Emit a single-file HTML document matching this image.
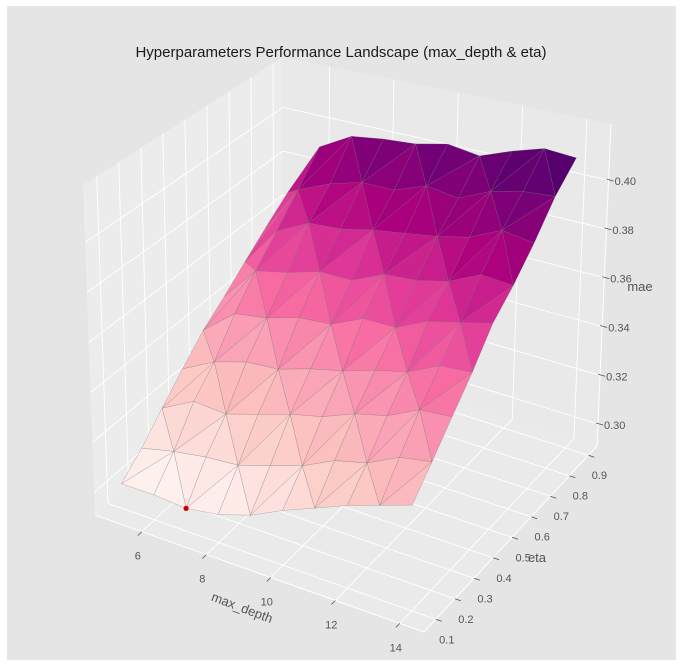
<!DOCTYPE html>
<html><head><meta charset="utf-8">
<style>
html,body{margin:0;padding:0;background:#fff;}
svg{display:block;font-family:"Liberation Sans",sans-serif;}
</style></head>
<body>
<svg id="chart" width="683" height="666" viewBox="0 0 683 666" xmlns="http://www.w3.org/2000/svg">
<rect x="7" y="6" width="669" height="654" fill="#e5e5e5"/>
<text x="341" y="57" text-anchor="middle" font-size="15" fill="#1a1a1a">Hyperparameters Performance Landscape (max_depth &amp; eta)</text>
<g id="panes"></g>
<g id="grid"></g>
<g id="axes"></g>
<g id="surf"></g>
<text x="242" y="612" text-anchor="middle" font-size="13" fill="#555" transform="rotate(21 242 608)">max_depth</text>
<text x="537" y="562" text-anchor="middle" font-size="13" fill="#555">eta</text>
<text x="640" y="291" text-anchor="middle" font-size="13" fill="#555">mae</text>
</svg>
<script>
const mdVals=[5,6,7,8,9,10,11,12,13,14];
const etaVals=[0.1,0.2,0.3,0.4,0.5,0.6,0.7,0.8,0.9];
const mae01=[0.301,0.301,0.300,0.302,0.306,0.312,0.317,0.322,0.326,0.330];
const mae02=[0.308,0.311,0.313,0.314,0.318,0.322,0.328,0.331,0.337,0.339];
const mae03=[0.317,0.324,0.323,0.327,0.331,0.334,0.339,0.342,0.348,0.349];
const mae04=[0.326,0.333,0.337,0.338,0.342,0.345,0.349,0.352,0.358,0.359];
const mae05=[0.335,0.346,0.348,0.352,0.353,0.359,0.359,0.365,0.368,0.371];
const mae06=[0.342,0.357,0.360,0.364,0.364,0.370,0.371,0.374,0.380,0.379];
const mae07=[0.350,0.367,0.374,0.375,0.378,0.380,0.382,0.385,0.391,0.389];
const mae08=[0.358,0.378,0.384,0.388,0.388,0.393,0.391,0.397,0.400,0.401];
const mae09=[0.366,0.390,0.398,0.400,0.401,0.404,0.402,0.407,0.411,0.410];
const maeRows=[mae01,mae02,mae03,mae04,mae05,mae06,mae07,mae08,mae09];
const mdTicks=[6,8,10,12,14];
const etaTicks=[0.1,0.2,0.3,0.4,0.5,0.6,0.7,0.8,0.9];
const zTicks=[0.30,0.32,0.34,0.36,0.38,0.40];

const NS="http://www.w3.org/2000/svg";
const MD0=4.55, MD1=14.75, E0=0.038, E1=0.945, Z0=0.291, Z1=0.423;
const cA=[95,515], cB=[424,632], cC=[597,446], cD=[283,346];
const tA=[83,185], tB=[426,269], tC=[611,124], tD=[283,57];
function bil(p00,p10,p11,p01,u,v){
  return [p00[0]*(1-u)*(1-v)+p10[0]*u*(1-v)+p11[0]*u*v+p01[0]*(1-u)*v,
          p00[1]*(1-u)*(1-v)+p10[1]*u*(1-v)+p11[1]*u*v+p01[1]*(1-u)*v];
}
function P(md,eta,z){
  const u=(md-MD0)/(MD1-MD0), v=(eta-E0)/(E1-E0), w=(z-Z0)/(Z1-Z0);
  const b=bil(cA,cB,cC,cD,u,v), t=bil(tA,tB,tC,tD,u,v);
  return [b[0]+(t[0]-b[0])*w, b[1]+(t[1]-b[1])*w];
}
function depth(md,eta,z){
  const u=(md-MD0)/(MD1-MD0), v=(eta-E0)/(E1-E0), w=(z-Z0)/(Z1-Z0);
  return 0.433*u-0.75*v+0.5*w*0.75;
}
function mk(tag,attrs,parent){
  const e=document.createElementNS(NS,tag);
  for(const k in attrs) e.setAttribute(k,attrs[k]);
  parent.appendChild(e); return e;
}
function pts(arr){return arr.map(p=>p[0].toFixed(1)+","+p[1].toFixed(1)).join(" ");}

const panes=document.getElementById('panes');
const grid=document.getElementById('grid');
const axes=document.getElementById('axes');
const surf=document.getElementById('surf');

let e;
e=mk('polygon',{points:pts([cA,cB,cC,cD]),fill:'#eaeaea'},panes);


e=mk('polygon',{points:pts([cA,cD,tD,tA]),fill:'#ececec'},panes);


e=mk('polygon',{points:pts([cD,cC,tC,tD]),fill:'#e9e9e9'},panes);



function line(p,q,parent,stroke,w,name){
  const l=mk('line',{x1:p[0].toFixed(1),y1:p[1].toFixed(1),x2:q[0].toFixed(1),y2:q[1].toFixed(1),stroke:stroke,'stroke-width':w},parent);
  
  
  return l;
}
mdTicks.forEach(m=>{
  line(P(m,E0,Z0),P(m,E1,Z0),grid,'#fff',0.9,'grid-md-bottom');
  line(P(m,E1,Z0),P(m,E1,Z1),grid,'#fff',0.9,'grid-md-back');
});
etaTicks.forEach(t=>{
  line(P(MD0,t,Z0),P(MD1,t,Z0),grid,'#fff',0.9,'grid-eta-bottom');
  line(P(MD0,t,Z0),P(MD0,t,Z1),grid,'#fff',0.9,'grid-eta-left');
});
zTicks.forEach(z=>{
  line(P(MD0,E0,z),P(MD0,E1,z),grid,'#fff',0.9,'grid-z-left');
  line(P(MD0,E1,z),P(MD1,E1,z),grid,'#fff',0.9,'grid-z-back');
});
line(P(MD0,E0,Z0),P(MD1,E0,Z0),axes,'#fff',1,'x-axis-line');
line(P(MD1,E0,Z0),P(MD1,E1,Z0),axes,'#fff',1,'y-axis-line');
line(P(MD1,E1,Z0),P(MD1,E1,Z1),axes,'#fff',1,'z-axis-line');
mdTicks.forEach(m=>{
  const p=P(m,E0,Z0);
  line(p,[p[0]-4,p[1]+4],axes,'#555',0.8,'x-tick');
  const t=mk('text',{x:(p[0]-4).toFixed(1),y:(p[1]+28).toFixed(1),'text-anchor':'middle','font-size':11,fill:'#555'},axes);
  t.textContent=String(m);
  
  
});
etaTicks.forEach(v=>{
  const p=P(MD1,v,Z0);
  line(p,[p[0]+6,p[1]+2],axes,'#555',0.8,'y-tick');
  const t=mk('text',{x:(p[0]+11).toFixed(1),y:(p[1]+24).toFixed(1),'text-anchor':'middle','font-size':11,fill:'#555'},axes);
  t.textContent=v.toFixed(1);
  
  
});
zTicks.forEach(z=>{
  const p=P(MD1,E1,z);
  line([p[0]-2,p[1]-1],[p[0]+5,p[1]+1],axes,'#555',0.8,'z-tick');
  const t=mk('text',{x:(p[0]+6).toFixed(1),y:(p[1]+5).toFixed(1),'font-size':11,fill:'#555'},axes);
  t.textContent=z.toFixed(2);
  
  
});

const cmap=[[255,247,243],[253,224,221],[252,197,192],[250,159,181],[247,104,161],[221,52,151],[174,1,126],[122,1,119],[73,0,106]];
function col(t){
  t=Math.max(0,Math.min(1,t))*(cmap.length-1);
  const i=Math.min(cmap.length-2,Math.floor(t)), f=t-i;
  const c=cmap[i].map((a,k)=>Math.round(a+(cmap[i+1][k]-a)*f));
  return 'rgb('+c.join(',')+')';
}
let zmin=Infinity,zmax=-Infinity,minI=0,minJ=0;
maeRows.forEach((r,j)=>r.forEach((z,i)=>{ if(z<zmin){zmin=z;minI=i;minJ=j;} if(z>zmax) zmax=z; }));
const tris=[];
for(let j=0;j<etaVals.length-1;j++){
  for(let i=0;i<mdVals.length-1;i++){
    const v00=[mdVals[i],etaVals[j],maeRows[j][i]], v10=[mdVals[i+1],etaVals[j],maeRows[j][i+1]];
    const v01=[mdVals[i],etaVals[j+1],maeRows[j+1][i]], v11=[mdVals[i+1],etaVals[j+1],maeRows[j+1][i+1]];
    if((i+j)%2===0){ tris.push([v00,v10,v11]); tris.push([v00,v11,v01]); }
    else { tris.push([v00,v10,v01]); tris.push([v10,v11,v01]); }
  }
}
tris.forEach(t=>{
  t.zm=(t[0][2]+t[1][2]+t[2][2])/3;
  t.d=depth((t[0][0]+t[1][0]+t[2][0])/3,(t[0][1]+t[1][1]+t[2][1])/3,t.zm);
});
tris.sort((a,b)=>a.d-b.d);
tris.forEach(t=>{
  const p=mk('polygon',{points:pts(t.map(v=>P(v[0],v[1],v[2]))),fill:col((t.zm-zmin)/(zmax-zmin)),stroke:'rgba(110,110,110,0.55)','stroke-width':0.45,'stroke-linejoin':'round'},surf);
  
  
});
const bp=P(mdVals[minI],etaVals[minJ],zmin);
const dot=mk('circle',{cx:bp[0].toFixed(1),cy:bp[1].toFixed(1),r:2.6,fill:'#d00000'},surf);


</script>
</body></html>
